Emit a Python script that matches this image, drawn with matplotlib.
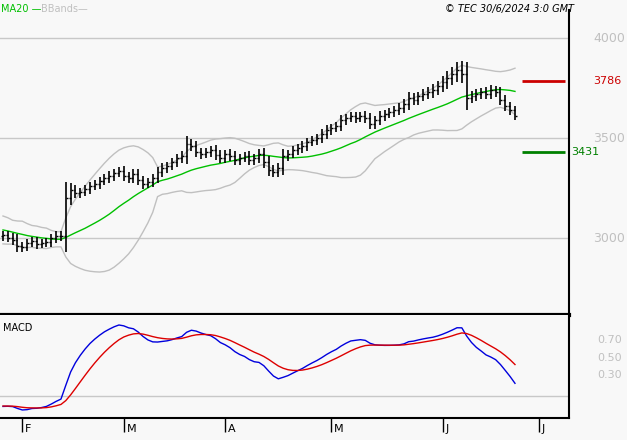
import numpy as np
import pandas as pd
import matplotlib
matplotlib.use("Agg")
import matplotlib.pyplot as plt
from matplotlib.transforms import ScaledTranslation

# prior closes (only used to warm up the indicators, not drawn)
warmup = [3120, 3100, 3110, 3080, 3060, 3090, 3070, 3040, 3050, 3030,
          3060, 3040, 3010, 3020, 3000, 2990, 3010, 3020, 3000, 3010]

closes = [3015, 3000, 2990, 2960, 2955, 2975, 2985, 2970, 2975, 2980,
          3000, 3010, 3010, 3200, 3240, 3225, 3230, 3245, 3260, 3270,
          3285, 3300, 3310, 3325, 3335, 3310, 3300, 3320, 3290, 3270,
          3280, 3300, 3330, 3350, 3360, 3380, 3400, 3410, 3470, 3460,
          3430, 3420, 3430, 3440, 3415, 3400, 3420, 3410, 3390, 3400,
          3410, 3390, 3400, 3420, 3380, 3340, 3330, 3350, 3410, 3420,
          3440, 3450, 3460, 3480, 3490, 3500, 3520, 3540, 3550, 3560,
          3590, 3600, 3610, 3600, 3610, 3600, 3570, 3590, 3610, 3620,
          3630, 3640, 3650, 3670, 3700, 3690, 3710, 3720, 3730, 3740,
          3760, 3780, 3800, 3820, 3840, 3820, 3700, 3710, 3720, 3730,
          3720, 3740, 3730, 3690, 3660, 3640, 3610]

ranges = [50, 45, 60, 70, 50, 45, 40, 50, 45, 40,
          50, 55, 60, 180, 80, 60, 50, 45, 50, 45,
          50, 45, 55, 50, 45, 60, 50, 55, 60, 50,
          45, 50, 60, 55, 50, 45, 50, 55, 90, 60,
          55, 50, 45, 50, 55, 60, 50, 55, 60, 50,
          45, 55, 50, 60, 70, 65, 60, 55, 80, 50,
          45, 50, 55, 50, 45, 50, 55, 60, 50, 45,
          60, 50, 45, 50, 45, 55, 60, 50, 55, 50,
          45, 50, 55, 60, 70, 55, 50, 55, 60, 65,
          60, 70, 75, 80, 90, 100, 130, 60, 55, 50,
          55, 60, 50, 60, 55, 50, 45]

support = 3431
resistance = 3786
price_ticks = [3000, 3500, 4000]
macd_labels = ["0.70", "0.50", "0.30"]
header_right = "© TEC 30/6/2024 3:0 GMT"

bg = "#f8f8f8"
grid_c = "#c8c8c8"

full = pd.Series(warmup + closes, dtype=float)
n0 = len(warmup)
ma = full.rolling(20).mean().iloc[n0:].values
sd = full.rolling(20).std(ddof=0).iloc[n0:].values
up, lo = ma + 2 * sd, ma - 2 * sd
ema12 = full.ewm(span=12, adjust=False).mean()
ema26 = full.ewm(span=26, adjust=False).mean()
macd = (ema12 - ema26)
signal = macd.ewm(span=9, adjust=False).mean()
macd = macd.iloc[n0:].values
signal = signal.iloc[n0:].values

x = np.arange(len(closes))
c = np.array(closes, float)
r = np.array(ranges, float)
opens = np.r_[warmup[-1], c[:-1]]
highs = np.maximum(c, opens) + r * 0.45
lows = np.minimum(c, opens) - r * 0.45

px = 4.83  # pixels per bar
xlim = (-3 / px, -3 / px + 569 / px)

fig = plt.figure(figsize=(6.27, 4.4), dpi=100, facecolor=bg)
ax = fig.add_axes([0, 1 - 315 / 440, 569 / 627, 305 / 440], facecolor=bg)
ax2 = fig.add_axes([0, 1 - 418 / 440, 569 / 627, 103 / 440], facecolor=bg)

# main panel
for v in price_ticks:
    ax.axhline(v, color=grid_c, lw=1, zorder=0)
ax.plot(x, up, color="#c0c0c0", lw=1)
ax.plot(x, lo, color="#c0c0c0", lw=1)
ax.plot(x, ma, color="#00c000", lw=1)
ax.vlines(x, lows, highs, color="black", lw=1.2)
ax.hlines(opens, x - 0.4, x, color="black", lw=1)
ax.hlines(c, x, x + 0.4, color="black", lw=1)
ax.hlines(resistance, 107.5, 116.3, color="#cc0000", lw=2)
ax.hlines(support, 107.5, 116.3, color="#008000", lw=2)
ax.set_xlim(*xlim)
ax.set_ylim(4000 - (315 - 38) * 5, 4000 + 28 * 5)
ax.set_xticks([])
ax.set_yticks([])
for s in ["left", "top"]:
    ax.spines[s].set_visible(False)
ax.spines["right"].set_linewidth(1.5)
ax.spines["bottom"].set_linewidth(3)
ytr = ax.get_yaxis_transform()
for v in price_ticks:
    ax.text(1.042, v, f"{v}", transform=ytr,
            color="#c0c0c0", fontsize=9, va="center", ha="left")
ax.text(1.042, resistance, f"{resistance}", transform=ytr,
        color="#cc0000", fontsize=8, va="center", ha="left")
ax.text(1.003, support, f"{support}", transform=ytr,
        color="#008000", fontsize=8, va="center", ha="left")

# MACD panel
ax2.plot(x, macd, color="#0000dd", lw=1)
ax2.plot(x, signal, color="#dd0000", lw=1)
mn, mx = macd.min(), macd.max()
f_lo, f_hi = 0.078, 0.903
span = (mx - mn) / (f_hi - f_lo)
y0 = mn - f_lo * span
ax2.set_ylim(y0, y0 + span)
ax2.axhline(y0 + span * (418 - 396) / 103, color=grid_c, lw=1, zorder=0)
for lab, ypx in zip(macd_labels, [340, 358, 375]):
    ax2.text(1.05, (418 - ypx) / 103, lab, transform=ax2.transAxes,
             color="#c0c0c0", fontsize=8, va="center", ha="left")
ax2.text(0.005, 0.87, "MACD", transform=ax2.transAxes, fontsize=7, va="center")
ax2.set_xlim(*xlim)
for s in ["left", "top"]:
    ax2.spines[s].set_visible(False)
ax2.spines["right"].set_linewidth(1.5)
ax2.spines["bottom"].set_linewidth(1.5)
ax2.set_yticks([])

dates = pd.bdate_range("2024-01-26", periods=len(closes) + 10)
mstarts = [i for i in range(1, len(dates)) if dates[i].month != dates[i - 1].month]
ax2.set_xticks(mstarts)
ax2.set_xticklabels([dates[i].strftime("%b")[0] for i in mstarts],
                    ha="left", fontsize=8)
ax2.tick_params(axis="x", length=10, width=1, direction="out", pad=-8)
for t in ax2.get_xticklabels():
    t.set_transform(t.get_transform() + ScaledTranslation(2 / 72, -2 / 72, fig.dpi_scale_trans))

# header
fig.text(0.002, 0.99, "MA20 —", color="#00c000", fontsize=7, va="top")
fig.text(0.065, 0.99, "BBands—", color="#c0c0c0", fontsize=7, va="top")
fig.text(0.915, 0.99, header_right, fontsize=7, style="italic", va="top", ha="right")

fig.savefig("out.png", dpi=100, facecolor=bg)
